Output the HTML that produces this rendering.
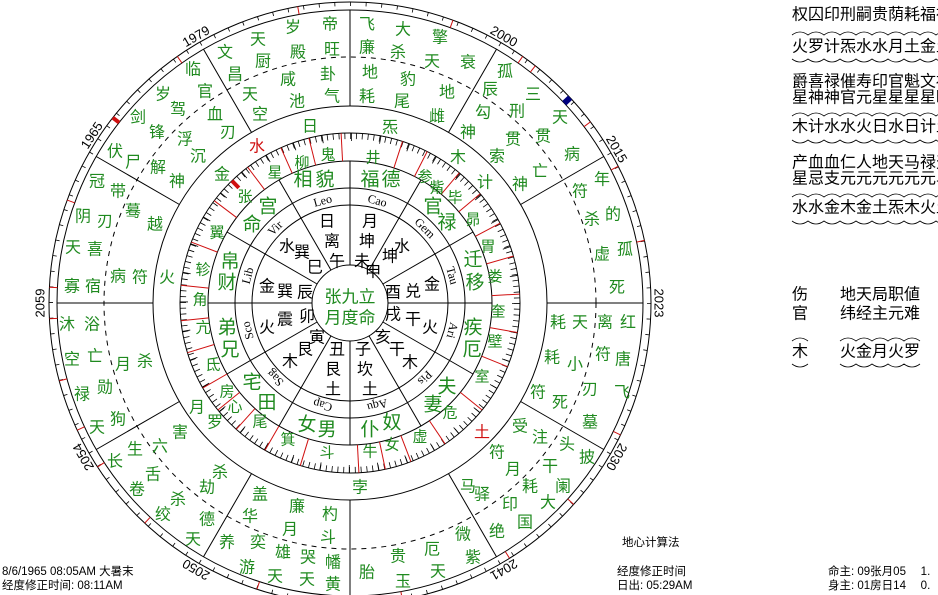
<!DOCTYPE html>
<html><head><meta charset="utf-8"><style>
html,body{margin:0;padding:0;background:#fff;width:938px;height:595px;overflow:hidden}
svg{display:block}
text{font-family:"Liberation Sans","Noto Sans CJK SC","WenQuanYi Zen Hei",sans-serif;text-anchor:middle;dominant-baseline:central}
.g{fill:#1f8a1f;font-size:16px}
.p{fill:#1f8a1f;font-size:19px}
.m{fill:#1f8a1f;font-size:15px}
.k{fill:#000;font-size:16px}
.z{fill:#000;font-size:12px;font-family:"Liberation Serif",serif}
.y{fill:#000;font-size:13px}
.r{fill:#d01010}
.t{fill:#000;font-size:16px;text-anchor:start}
.s{fill:#000;font-size:11.5px;text-anchor:start}
</style></head><body>
<svg width="938" height="595" viewBox="0 0 938 595" xmlns="http://www.w3.org/2000/svg">
<g transform="translate(350,303)" fill="none" stroke="#000" stroke-width="1">
 <circle r="301"/><circle r="293"/>
 <circle r="299" stroke-width="4" stroke-dasharray="0.8 14.855"/>
 <circle r="197"/><circle r="170"/><circle r="142"/><circle r="115"/><circle r="98"/><circle r="38"/>
 <circle r="167" stroke-width="6" stroke-dasharray="0.8 5.029"/>
 <circle r="166" stroke-width="8" stroke-dasharray="0.8 28.2"/>
 <circle r="246" stroke-dasharray="5 5"/>
 <g id="rad">
  <line x1="38" x2="142"/><line x1="197" x2="293"/>
 </g>
 <use href="#rad" transform="rotate(-30)"/><use href="#rad" transform="rotate(-60)"/><use href="#rad" transform="rotate(-90)"/>
 <use href="#rad" transform="rotate(-120)"/><use href="#rad" transform="rotate(-150)"/><use href="#rad" transform="rotate(-180)"/>
 <use href="#rad" transform="rotate(-210)"/><use href="#rad" transform="rotate(-240)"/><use href="#rad" transform="rotate(-270)"/>
 <use href="#rad" transform="rotate(-300)"/><use href="#rad" transform="rotate(-330)"/>
 <g stroke="#d01010">
  <line x1="142" x2="170" transform="rotate(-63)"/><line x1="142" x2="170" transform="rotate(-72)"/>
  <line x1="142" x2="170" transform="rotate(-93)"/><line x1="142" x2="170" transform="rotate(-104)"/>
  <line x1="142" x2="170" transform="rotate(-114)"/><line x1="142" x2="170" transform="rotate(-127)"/>
  <line x1="142" x2="170" transform="rotate(-143)"/><line x1="142" x2="170" transform="rotate(-159)"/>
  <line x1="142" x2="170" transform="rotate(-174)"/><line x1="142" x2="170" transform="rotate(-186)"/>
  <line x1="142" x2="170" transform="rotate(-197)"/><line x1="142" x2="170" transform="rotate(-210)"/>
  <line x1="142" x2="170" transform="rotate(-219)"/><line x1="142" x2="170" transform="rotate(-228)"/>
  <line x1="142" x2="170" transform="rotate(-240)"/><line x1="142" x2="170" transform="rotate(-253)"/>
  <line x1="142" x2="170" transform="rotate(-273)"/><line x1="142" x2="170" transform="rotate(-282)"/>
  <line x1="142" x2="170" transform="rotate(-291)"/><line x1="142" x2="170" transform="rotate(-304)"/>
  <line x1="142" x2="170" transform="rotate(-321)"/><line x1="142" x2="170" transform="rotate(-338)"/>
  <line x1="142" x2="170" transform="rotate(-350)"/><line x1="142" x2="170" transform="rotate(-3)"/>
  <line x1="142" x2="170" transform="rotate(-16)"/><line x1="142" x2="170" transform="rotate(-28)"/>
  <line x1="142" x2="170" transform="rotate(-40)"/><line x1="142" x2="170" transform="rotate(-50)"/>
  <line x1="293" x2="301" transform="rotate(-100)"/><line x1="293" x2="301" transform="rotate(-125)"/>
  <line x1="293" x2="301" transform="rotate(-160)"/><line x1="293" x2="301" transform="rotate(-177)"/>
  <line x1="293" x2="301" transform="rotate(-183)"/><line x1="293" x2="301" transform="rotate(-195)"/>
  <line x1="293" x2="301" transform="rotate(-205)"/><line x1="293" x2="301" transform="rotate(-213)"/>
  <line x1="293" x2="301" transform="rotate(-227)"/><line x1="293" x2="301" transform="rotate(-252)"/>
  <line x1="293" x2="301" transform="rotate(-280)"/><line x1="293" x2="301" transform="rotate(-302)"/>
  <line x1="293" x2="301" transform="rotate(-318)"/><line x1="293" x2="301" transform="rotate(-334)"/>
  <line x1="293" x2="301" transform="rotate(-12)"/><line x1="293" x2="301" transform="rotate(-27)"/>
  <line x1="293" x2="301" transform="rotate(-37)"/><line x1="293" x2="301" transform="rotate(-52)"/>
  <line x1="293" x2="301" transform="rotate(-55)"/><line x1="293" x2="301" transform="rotate(-70)"/>
  <line x1="293" x2="301" stroke-width="4" transform="rotate(-142)"/>
  <line x1="160" x2="170" stroke-width="4" transform="rotate(-134)"/>
 </g>
 <line x1="293" x2="301" stroke="#000080" stroke-width="6" transform="rotate(-43)"/>
</g>
<g transform="translate(350,303)">
 <text class="y" transform="rotate(-147) translate(308,0) rotate(90)">1965</text>
 <text class="y" transform="rotate(-120) translate(308,0) rotate(90)">1979</text>
 <text class="y" transform="rotate(-60) translate(308,0) rotate(90)">2000</text>
 <text class="y" transform="rotate(-30) translate(308,0) rotate(90)">2015</text>
 <text class="y" transform="rotate(0) translate(309,0) rotate(90)">2023</text>
 <text class="y" transform="rotate(30) translate(308,0) rotate(90)">2030</text>
 <text class="y" transform="rotate(60) translate(308,0) rotate(90)">2041</text>
 <text class="y" transform="rotate(120) translate(308,0) rotate(90)">2050</text>
 <text class="y" transform="rotate(150) translate(308,0) rotate(90)">2054</text>
 <text class="y" transform="rotate(180) translate(310,0) rotate(90)">2059</text>
 <text class="z" transform="rotate(-105) translate(106,0) rotate(90)">Leo</text>
 <text class="z" transform="rotate(-75) translate(106,0) rotate(90)">Cao</text>
 <text class="z" transform="rotate(-45) translate(106,0) rotate(90)">Gem</text>
 <text class="z" transform="rotate(-15) translate(106,0) rotate(90)">Tau</text>
 <text class="z" transform="rotate(15) translate(106,0) rotate(90)">Ari</text>
 <text class="z" transform="rotate(45) translate(106,0) rotate(90)">Pis</text>
 <text class="z" transform="rotate(75) translate(106,0) rotate(90)">Aqu</text>
 <text class="z" transform="rotate(105) translate(106,0) rotate(90)">Cap</text>
 <text class="z" transform="rotate(135) translate(106,0) rotate(90)">Sag</text>
 <text class="z" transform="rotate(165) translate(106,0) rotate(90)">Sco</text>
 <text class="z" transform="rotate(-165) translate(106,0) rotate(90)">Lib</text>
 <text class="z" transform="rotate(-135) translate(106,0) rotate(90)">Vir</text>
</g>
<g class="k">
<text x="327" y="222" class="k">日</text><text x="332" y="242" class="k">离</text><text x="337" y="262" class="k">午</text>
<text x="370" y="222" class="k">月</text><text x="367" y="242" class="k">坤</text><text x="362" y="262" class="k">未</text>
<text x="287" y="247" class="k">水</text><text x="302" y="253" class="k">巽</text><text x="315" y="268" class="k">巳</text>
<text x="402" y="247" class="k">水</text><text x="390" y="257" class="k">坤</text><text x="373" y="272" class="k">申</text>
<text x="267" y="287" class="k">金</text><text x="285" y="292" class="k">巽</text><text x="305" y="293" class="k">辰</text>
<text x="393" y="293" class="k">酉</text><text x="413" y="292" class="k">兑</text><text x="432" y="285" class="k">金</text>
<text x="267" y="328" class="k">火</text><text x="285" y="320" class="k">震</text><text x="307" y="317" class="k">卯</text>
<text x="393" y="315" class="k">戌</text><text x="413" y="320" class="k">干</text><text x="430" y="328" class="k">火</text>
<text x="317" y="338" class="k">寅</text><text x="305" y="350" class="k">艮</text><text x="290" y="362" class="k">木</text>
<text x="383" y="338" class="k">亥</text><text x="397" y="350" class="k">干</text><text x="410" y="363" class="k">木</text>
<text x="337" y="350" class="k">丑</text><text x="333" y="370" class="k">艮</text><text x="333" y="390" class="k">土</text>
<text x="363" y="350" class="k">子</text><text x="365" y="370" class="k">坎</text><text x="370" y="390" class="k">土</text>
</g>
<text x="350" y="297" class="g" style="font-size:17px">张九立</text>
<text x="350" y="318" class="g" style="font-size:17px">月度命</text>
<text x="303" y="180" class="p">相</text><text x="325" y="180" class="p">貌</text>
<text x="370" y="180" class="p">福</text><text x="391" y="180" class="p">德</text>
<text x="268" y="207" class="p">宫</text><text x="252" y="225" class="p">命</text>
<text x="433" y="207" class="p">官</text><text x="447" y="223" class="p">禄</text>
<text x="230" y="262" class="p">帛</text><text x="227" y="283" class="p">财</text>
<text x="473" y="260" class="p">迁</text><text x="475" y="283" class="p">移</text>
<text x="227" y="328" class="p">弟</text><text x="230" y="350" class="p">兄</text>
<text x="473" y="328" class="p">疾</text><text x="472" y="350" class="p">厄</text>
<text x="252" y="383" class="p">宅</text><text x="267" y="403" class="p">田</text>
<text x="447" y="387" class="p">夫</text><text x="433" y="405" class="p">妻</text>
<text x="307" y="425" class="p">女</text><text x="327" y="430" class="p">男</text>
<text x="370" y="430" class="p">仆</text><text x="392" y="423" class="p">奴</text>
<text x="373" y="158" class="m">井</text><text x="328" y="155" class="m">鬼</text><text x="302" y="163" class="m">柳</text>
<text x="275" y="173" class="m">星</text><text x="245" y="197" class="m">张</text><text x="217" y="233" class="m">翼</text>
<text x="203" y="270" class="m">轸</text><text x="200" y="300" class="m">角</text><text x="203" y="328" class="m">亢</text>
<text x="213" y="365" class="m">氐</text><text x="227" y="392" class="m">房</text><text x="235" y="407" class="m">心</text>
<text x="260" y="422" class="m">尾</text><text x="288" y="440" class="m">箕</text><text x="327" y="453" class="m">斗</text>
<text x="370" y="452" class="m">牛</text><text x="392" y="445" class="m">女</text><text x="420" y="437" class="m">虚</text>
<text x="450" y="413" class="m">危</text><text x="482" y="377" class="m">室</text><text x="495" y="342" class="m">壁</text>
<text x="498" y="312" class="m">奎</text><text x="495" y="277" class="m">娄</text><text x="488" y="247" class="m">胃</text>
<text x="473" y="220" class="m">昴</text><text x="455" y="198" class="m">毕</text><text x="437" y="188" class="m">觜</text>
<text x="425" y="177" class="m">参</text>
<text x="310" y="127" class="g">日</text><text x="257" y="147" class="g r">水</text><text x="222" y="175" class="g">金</text>
<text x="167" y="278" class="g">火</text><text x="458" y="158" class="g">木</text><text x="485" y="183" class="g">计</text>
<text x="390" y="128" class="g">炁</text><text x="482" y="433" class="g r">土</text><text x="360" y="488" class="g">孛</text>
<text x="197" y="408" class="g">月</text><text x="215" y="423" class="g">罗</text>
<g class="g">
<text x="330" y="25" class="g">帝</text><text x="332" y="50" class="g">旺</text><text x="293" y="28" class="g">岁</text><text x="298" y="53" class="g">殿</text>
<text x="258" y="40" class="g">天</text><text x="263" y="62" class="g">厨</text><text x="225" y="53" class="g">文</text><text x="235" y="75" class="g">昌</text>
<text x="328" y="75" class="g">卦</text><text x="332" y="97" class="g">气</text><text x="288" y="80" class="g">咸</text><text x="297" y="102" class="g">池</text>
<text x="250" y="95" class="g">天</text><text x="260" y="115" class="g">空</text><text x="193" y="70" class="g">临</text><text x="205" y="92" class="g">官</text>
<text x="215" y="115" class="g">血</text><text x="228" y="133" class="g">刃</text><text x="163" y="95" class="g">岁</text><text x="178" y="110" class="g">驾</text>
<text x="138" y="118" class="g">剑</text><text x="157" y="133" class="g">锋</text><text x="185" y="140" class="g">浮</text><text x="198" y="157" class="g">沉</text>
<text x="115" y="152" class="g">伏</text><text x="133" y="163" class="g">尸</text><text x="158" y="168" class="g">解</text><text x="177" y="182" class="g">神</text>
<text x="97" y="182" class="g">冠</text><text x="118" y="192" class="g">带</text><text x="83" y="217" class="g">阴</text><text x="105" y="222" class="g">刃</text>
<text x="133" y="212" class="g">蓦</text><text x="155" y="225" class="g">越</text><text x="73" y="248" class="g">天</text><text x="95" y="250" class="g">喜</text>
<text x="118" y="277" class="g">病</text><text x="140" y="278" class="g">符</text><text x="72" y="287" class="g">寡</text><text x="93" y="287" class="g">宿</text>
<text x="367" y="25" class="g">飞</text><text x="403" y="30" class="g">大</text><text x="440" y="38" class="g">擎</text><text x="367" y="48" class="g">廉</text>
<text x="398" y="53" class="g">杀</text><text x="432" y="62" class="g">天</text><text x="468" y="63" class="g">衰</text><text x="370" y="73" class="g">地</text>
<text x="408" y="80" class="g">豹</text><text x="447" y="93" class="g">地</text><text x="367" y="97" class="g">耗</text><text x="402" y="102" class="g">尾</text>
<text x="437" y="117" class="g">雌</text><text x="505" y="72" class="g">孤</text><text x="490" y="90" class="g">辰</text><text x="533" y="95" class="g">三</text>
<text x="483" y="113" class="g">勾</text><text x="517" y="112" class="g">刑</text><text x="560" y="118" class="g">天</text><text x="468" y="133" class="g">神</text>
<text x="513" y="140" class="g">贯</text><text x="543" y="137" class="g">贯</text><text x="497" y="157" class="g">索</text><text x="572" y="155" class="g">病</text>
<text x="540" y="172" class="g">亡</text><text x="520" y="185" class="g">神</text><text x="580" y="192" class="g">符</text><text x="602" y="180" class="g">年</text>
<text x="592" y="220" class="g">杀</text><text x="613" y="215" class="g">的</text><text x="602" y="255" class="g">虚</text><text x="625" y="250" class="g">孤</text>
<text x="617" y="288" class="g">死</text>
<text x="558" y="323" class="g">耗</text><text x="580" y="323" class="g">天</text><text x="605" y="323" class="g">离</text><text x="628" y="323" class="g">红</text>
<text x="552" y="358" class="g">耗</text><text x="575" y="365" class="g">小</text><text x="603" y="355" class="g">符</text><text x="623" y="360" class="g">唐</text>
<text x="590" y="390" class="g">刃</text><text x="622" y="393" class="g">飞</text><text x="538" y="393" class="g">符</text><text x="560" y="403" class="g">死</text>
<text x="590" y="423" class="g">墓</text><text x="520" y="427" class="g">受</text><text x="540" y="438" class="g">注</text><text x="567" y="445" class="g">头</text>
<text x="587" y="458" class="g">披</text><text x="497" y="453" class="g">符</text><text x="513" y="470" class="g">月</text><text x="550" y="467" class="g">干</text>
<text x="563" y="487" class="g">阑</text><text x="530" y="487" class="g">耗</text><text x="548" y="503" class="g">大</text><text x="468" y="487" class="g">马</text>
<text x="482" y="495" class="g">驿</text><text x="510" y="505" class="g">印</text><text x="525" y="523" class="g">国</text><text x="497" y="532" class="g">绝</text>
<text x="463" y="535" class="g">微</text><text x="473" y="558" class="g">紫</text><text x="432" y="550" class="g">厄</text><text x="398" y="557" class="g">贵</text>
<text x="438" y="572" class="g">天</text><text x="367" y="573" class="g">胎</text><text x="403" y="582" class="g">玉</text>
<text x="67" y="325" class="g">沐</text><text x="92" y="325" class="g">浴</text><text x="72" y="360" class="g">空</text><text x="95" y="357" class="g">亡</text>
<text x="123" y="365" class="g">月</text><text x="145" y="362" class="g">杀</text><text x="82" y="395" class="g">禄</text><text x="105" y="388" class="g">勋</text>
<text x="97" y="428" class="g">天</text><text x="118" y="420" class="g">狗</text><text x="180" y="433" class="g">害</text><text x="135" y="450" class="g">生</text>
<text x="160" y="447" class="g">六</text><text x="115" y="462" class="g">长</text><text x="153" y="475" class="g">舌</text><text x="137" y="490" class="g">卷</text>
<text x="220" y="473" class="g">杀</text><text x="207" y="488" class="g">劫</text><text x="178" y="500" class="g">杀</text><text x="163" y="515" class="g">绞</text>
<text x="207" y="520" class="g">德</text><text x="193" y="540" class="g">天</text><text x="260" y="495" class="g">盖</text><text x="250" y="517" class="g">华</text>
<text x="297" y="507" class="g">廉</text><text x="290" y="530" class="g">月</text><text x="330" y="515" class="g">杓</text><text x="328" y="538" class="g">斗</text>
<text x="227" y="543" class="g">养</text><text x="258" y="543" class="g">奕</text><text x="283" y="553" class="g">雄</text><text x="308" y="558" class="g">哭</text>
<text x="333" y="563" class="g">幡</text><text x="247" y="568" class="g">游</text><text x="275" y="577" class="g">天</text><text x="307" y="580" class="g">天</text>
<text x="333" y="585" class="g">黄</text>
</g>
<g>
<text x="792" y="15" class="t">权囚印刑嗣贵荫耗福禄</text>
<text x="792" y="47" class="t">火罗计炁水水月土金土</text>
<text x="792" y="82" class="t">爵喜禄催寿印官魁文福</text>
<text x="792" y="98" class="t">星神神官元星星星星曜</text>
<text x="792" y="127" class="t">木计水水火日水日计土</text>
<text x="792" y="163" class="t">产血血仁人地天马禄天</text>
<text x="792" y="179" class="t">星忌支元元元元元元马</text>
<text x="792" y="208" class="t">水水金木金土炁木火土</text>
<text x="792" y="295" class="t">伤</text><text x="840" y="295" class="t">地天局职値</text>
<text x="792" y="314" class="t">官</text><text x="840" y="314" class="t">纬经主元难</text>
<text x="792" y="352" class="t">木</text><text x="840" y="352" class="t">火金月火罗</text>
</g>
<g fill="none" stroke="#000" stroke-width="0.8">
 <path d="M792 35 q8 -6 16 0 q8 -6 16 0 q8 -6 16 0 q8 -6 16 0 q8 -6 16 0 q8 -6 16 0 q8 -6 16 0 q8 -6 16 0 q8 -6 16 0 q8 -6 16 0"/>
 <path d="M792 59 q8 6 16 0 q8 6 16 0 q8 6 16 0 q8 6 16 0 q8 6 16 0 q8 6 16 0 q8 6 16 0 q8 6 16 0 q8 6 16 0 q8 6 16 0"/>
 <path d="M792 116 q8 -6 16 0 q8 -6 16 0 q8 -6 16 0 q8 -6 16 0 q8 -6 16 0 q8 -6 16 0 q8 -6 16 0 q8 -6 16 0 q8 -6 16 0 q8 -6 16 0"/>
 <path d="M792 140 q8 6 16 0 q8 6 16 0 q8 6 16 0 q8 6 16 0 q8 6 16 0 q8 6 16 0 q8 6 16 0 q8 6 16 0 q8 6 16 0 q8 6 16 0"/>
 <path d="M792 197 q8 -6 16 0 q8 -6 16 0 q8 -6 16 0 q8 -6 16 0 q8 -6 16 0 q8 -6 16 0 q8 -6 16 0 q8 -6 16 0 q8 -6 16 0 q8 -6 16 0"/>
 <path d="M792 221 q8 6 16 0 q8 6 16 0 q8 6 16 0 q8 6 16 0 q8 6 16 0 q8 6 16 0 q8 6 16 0 q8 6 16 0 q8 6 16 0 q8 6 16 0"/>
 <path d="M792 341 q8 -6 16 0 M840 341 q8 -6 16 0 q8 -6 16 0 q8 -6 16 0 q8 -6 16 0 q8 -6 16 0"/>
 <path d="M792 364 q8 6 16 0 M840 364 q8 6 16 0 q8 6 16 0 q8 6 16 0 q8 6 16 0 q8 6 16 0"/>
</g>
<text x="2" y="572" class="s">8/6/1965 08:05AM 大暑末</text>
<text x="2" y="586" class="s">经度修正时间: 08:11AM</text>
<text x="622" y="543" class="s">地心计算法</text>
<text x="617" y="572" class="s">经度修正时间</text>
<text x="617" y="586" class="s">日出: 05:29AM</text>
<text x="828" y="572" class="s">命主: 09张月05　 1.</text>
<text x="828" y="586" class="s">身主: 01房日14　 0.</text>
</svg>
</body></html>
